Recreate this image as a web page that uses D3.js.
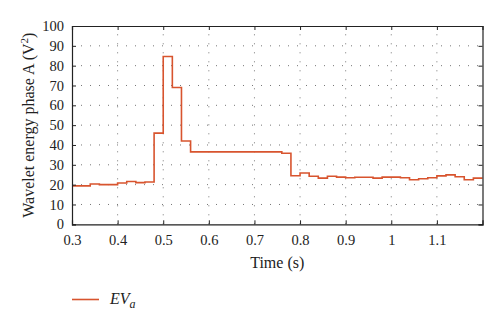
<!DOCTYPE html>
<html>
<head>
<meta charset="utf-8">
<script src="https://cdn.jsdelivr.net/npm/d3@7"></script>
<style>
  html, body { margin: 0; padding: 0; background: #fff; }
  svg { display: block; font-family: "Liberation Serif", "DejaVu Serif", serif; }
</style>
</head>
<body>
<svg id="chart" width="500" height="329"></svg>
<script>
// Step edges (s) and wavelet energy per 20 ms window (V^2)
const stepStarts = [0.30, 0.34, 0.36, 0.40, 0.42, 0.44, 0.46, 0.48, 0.50, 0.52,
                    0.54, 0.56, 0.76, 0.78, 0.80, 0.82, 0.84, 0.86, 0.88, 0.90,
                    0.92, 0.94, 0.96, 0.98, 1.00, 1.02, 1.04, 1.06, 1.08, 1.10,
                    1.12, 1.14, 1.16, 1.18];
const energyA = [19.4, 20.3, 20.0, 20.8, 21.6, 21.0, 21.3, 46.0, 84.6, 69.0,
                 42.0, 36.5, 35.8, 24.5, 25.9, 24.2, 23.3, 24.2, 23.8, 23.5,
                 23.7, 23.7, 23.3, 23.8, 23.8, 23.5, 22.5, 23.0, 23.5, 24.4,
                 24.9, 24.0, 22.5, 23.3];
const endTime = 1.20;
const xTicks = [0.3, 0.4, 0.5, 0.6, 0.7, 0.8, 0.9, 1.0, 1.1];
const yTicks = [0, 10, 20, 30, 40, 50, 60, 70, 80, 90, 100];

const margin = { left: 72, right: 17.5, top: 26, bottom: 104.7 };
const W = 500, H = 329;
const svg = d3.select("#chart");

const x = d3.scaleLinear().domain([0.3, 1.2]).range([margin.left, W - margin.right]);
const y = d3.scaleLinear().domain([0, 100]).range([H - margin.bottom, margin.top]);

const x0 = x.range()[0], x1 = x.range()[1];
const y0 = y.range()[0], y1 = y.range()[1];

// dotted grid
const grid = svg.append("g").attr("stroke", "#777").attr("stroke-width", 1)
  .attr("stroke-dasharray", "1,8").attr("fill", "none");
xTicks.slice(1).forEach(t => {
  grid.append("line").attr("x1", x(t)).attr("x2", x(t)).attr("y1", y0).attr("y2", y1);
});
yTicks.slice(1, -1).forEach(v => {
  grid.append("line").attr("x1", x0).attr("x2", x1).attr("y1", y(v)).attr("y2", y(v));
});

// series as step line
const pts = energyA.map((v, i) => [stepStarts[i], v]);
pts.push([endTime, energyA[energyA.length - 1]]);
const line = d3.line().x(d => x(d[0])).y(d => y(d[1])).curve(d3.curveStepAfter);
svg.append("path").datum(pts).attr("d", line)
  .attr("fill", "none").attr("stroke", "#d8542e").attr("stroke-width", 1.6)
  .attr("stroke-linejoin", "miter");

// axes with inward ticks on all four sides
const fmtX = d => (d === 1 ? "1" : d3.format(".1f")(d));
const axB = svg.append("g").attr("transform", `translate(0,${y0})`)
  .call(d3.axisBottom(x).tickValues(xTicks).tickSize(-4).tickPadding(10).tickFormat(fmtX));
const axT = svg.append("g").attr("transform", `translate(0,${y1})`)
  .call(d3.axisTop(x).tickValues(xTicks).tickSize(-4).tickFormat(""));
const axL = svg.append("g").attr("transform", `translate(${x0},0)`)
  .call(d3.axisLeft(y).tickValues(yTicks).tickSize(-4).tickPadding(8));
const axR = svg.append("g").attr("transform", `translate(${x1},0)`)
  .call(d3.axisRight(y).tickValues(yTicks).tickSize(-4).tickFormat(""));
[axB, axT, axL, axR].forEach(a => {
  a.selectAll(".domain").attr("stroke", "#222").attr("stroke-width", 1.2);
  a.selectAll(".tick line").attr("stroke", "#222");
  a.selectAll("text").attr("font-family", "Liberation Serif, DejaVu Serif, serif")
    .attr("font-size", 14.5).attr("fill", "#222");
});

// axis titles
svg.append("text").attr("x", (x0 + x1) / 2).attr("y", 268)
  .attr("text-anchor", "middle").attr("font-size", 16).attr("fill", "#222")
  .text("Time (s)");
const yl = svg.append("text")
  .attr("transform", `translate(34,${(y0 + y1) / 2}) rotate(-90)`)
  .attr("text-anchor", "middle").attr("font-size", 16).attr("fill", "#222");
yl.append("tspan").text("Wavelet energy phase A (V");
yl.append("tspan").attr("dy", -6).attr("font-size", 11).text("2");
yl.append("tspan").attr("dy", 6).text(")");

// legend
svg.append("line").attr("x1", 72).attr("x2", 99).attr("y1", 299.5).attr("y2", 299.5)
  .attr("stroke", "#d8542e").attr("stroke-width", 1.6);
const lt = svg.append("text").attr("x", 110).attr("y", 304)
  .attr("font-size", 16).attr("font-style", "italic").attr("fill", "#222");
lt.append("tspan").text("EV");
lt.append("tspan").attr("dy", 4).attr("font-size", 12).text("a");
</script>
</body>
</html>
